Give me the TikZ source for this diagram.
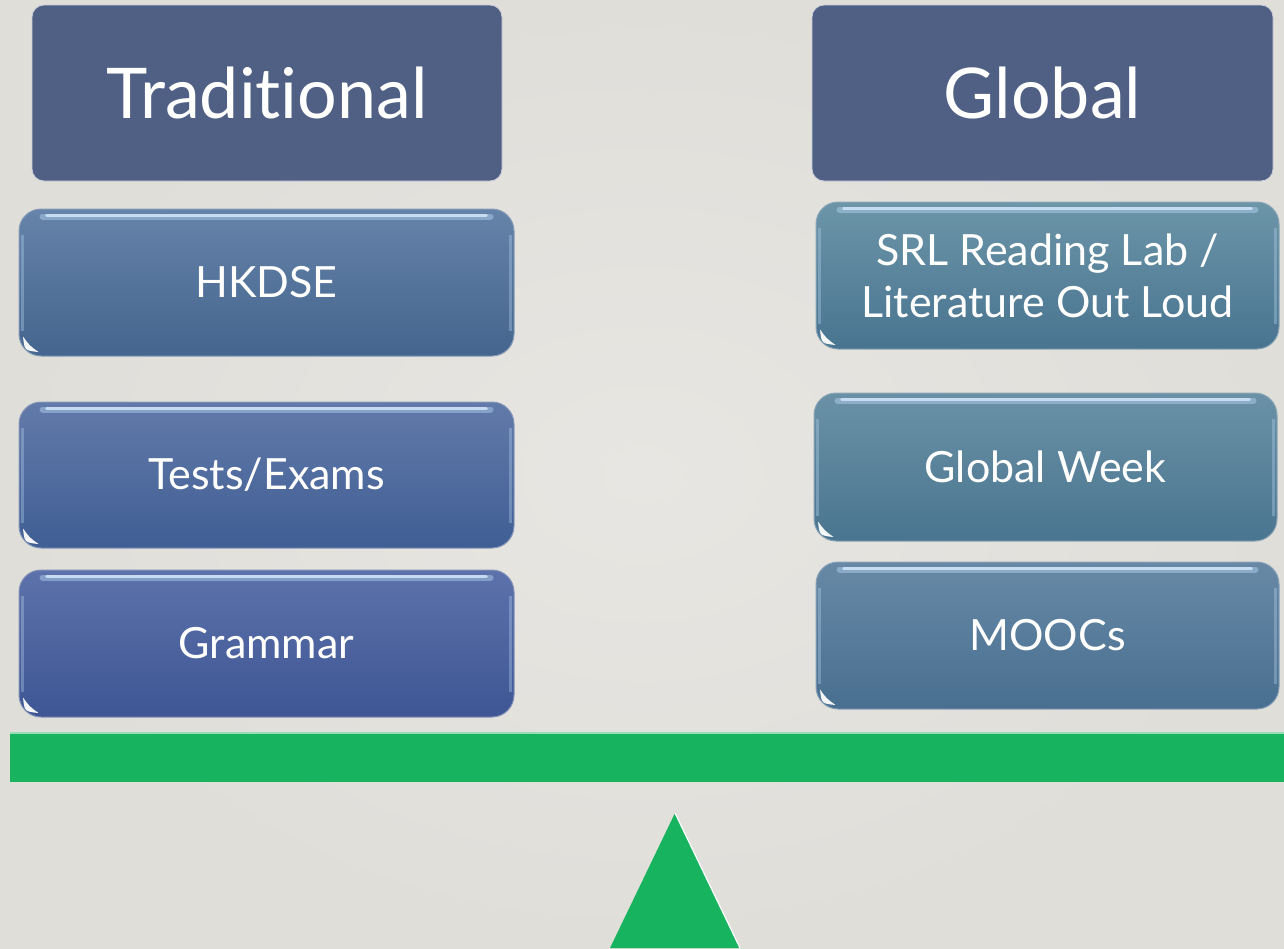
\documentclass[tikz,border=0pt]{standalone}
\usepackage{fontspec}
\setmainfont{Lato}[Ligatures=NoCommon]
\usetikzlibrary{shadings}
\definecolor{bgc}{HTML}{E0DED9}
\definecolor{bgin}{HTML}{E8E6E2}
\definecolor{headc}{HTML}{506085}
\definecolor{greenc}{HTML}{18B35E}
\definecolor{hkT}{HTML}{6683A9}\definecolor{hkB}{HTML}{44658E}
\definecolor{teT}{HTML}{627AA9}\definecolor{teB}{HTML}{405E94}
\definecolor{grT}{HTML}{5D72AB}\definecolor{grB}{HTML}{3E5694}
\definecolor{srT}{HTML}{6C95A8}\definecolor{srB}{HTML}{497490}
\definecolor{gwT}{HTML}{6A91A6}\definecolor{gwB}{HTML}{4A7590}
\definecolor{moT}{HTML}{6789A6}\definecolor{moB}{HTML}{496F90}
\definecolor{hlc}{HTML}{B8D6F2}
\tikzset{
  headbox/.style={rectangle, rounded corners=12pt, fill=headc, draw=white!70!headc, line width=0.8pt,
    text=white, font=\fontsize{70}{80}\selectfont, inner sep=0pt},
  itembox/.style={rectangle, rounded corners=22pt, draw=white!35!#1B, line width=1pt,
    top color=#1T, bottom color=#1B, text=white, align=center, inner sep=0pt,
    font=\fontsize{43}{52}\selectfont},
  hlband/.style={draw=hlc, line width=6pt, line cap=round, opacity=0.45},
  hl/.style={draw=hlc!70!white, line width=2.5pt, line cap=round, opacity=0.9},
  sideband/.style={draw=hlc, line width=3pt, opacity=0.35},
  spot/.style={fill=white, opacity=0.95},
}
\newcommand\boxgloss[1]{%
  \draw[hlband] ([xshift=24pt,yshift=-8pt]#1.north west) -- ([xshift=-24pt,yshift=-8pt]#1.north east);
  \draw[hl] ([xshift=28pt,yshift=-7pt]#1.north west) -- ([xshift=-28pt,yshift=-7pt]#1.north east);
  \draw[sideband] ([xshift=4pt,yshift=-26pt]#1.north west) -- ([xshift=4pt,yshift=26pt]#1.south west);
  \draw[sideband] ([xshift=-4pt,yshift=-26pt]#1.north east) -- ([xshift=-4pt,yshift=26pt]#1.south east);
  \fill[spot] ([xshift=4.5pt,yshift=20pt]#1.south west)
    .. controls ([xshift=6pt,yshift=6pt]#1.south west) .. ([xshift=20pt,yshift=4.5pt]#1.south west)
    .. controls ([xshift=11pt,yshift=11pt]#1.south west) .. ([xshift=4.5pt,yshift=20pt]#1.south west) -- cycle;
}
\begin{document}
\begin{tikzpicture}[x=1pt,y=-1pt]
\shade[inner color=bgin, outer color=bgc] (0,0) rectangle (1284,948);
\useasboundingbox (0,0) rectangle (1284,948);

\node[headbox, minimum width=470pt, minimum height=176pt] (trad) at (267,93) {Traditional};
\node[headbox, minimum width=461pt, minimum height=176pt] (glob) at (1042.5,93) {Global};

\node[itembox=hk, minimum width=495pt, minimum height=147pt] (hkdse) at (266.5,282.5) {HKDSE};
\node[itembox=te, minimum width=495pt, minimum height=146pt] (tests) at (266.5,475) {Tests/Exams};
\node[itembox=gr, minimum width=495pt, minimum height=147pt] (gram) at (266.5,643.5) {Grammar};

\node[itembox=sr, minimum width=463pt, minimum height=147pt] (srl) at (1047.5,275.5) {SRL Reading Lab /\\Literature Out Loud};
\node[itembox=gw, minimum width=463pt, minimum height=148pt] (gweek) at (1045.5,467) {Global Week};
\node[itembox=mo, minimum width=463pt, minimum height=147pt] (moocs) at (1047.5,635.5) {MOOCs};

\boxgloss{hkdse}\boxgloss{tests}\boxgloss{gram}
\boxgloss{srl}\boxgloss{gweek}\boxgloss{moocs}

% beam
\fill[greenc] (10,732) rectangle (1284,782);
\draw[white!55!greenc, line width=2pt] (10,733) -- (1284,733);
% fulcrum
\fill[greenc] (675,813) -- (740,948) -- (610,948) -- cycle;
\draw[white, line width=1.2pt] (675,813) -- (740,948);
\end{tikzpicture}
\end{document}
